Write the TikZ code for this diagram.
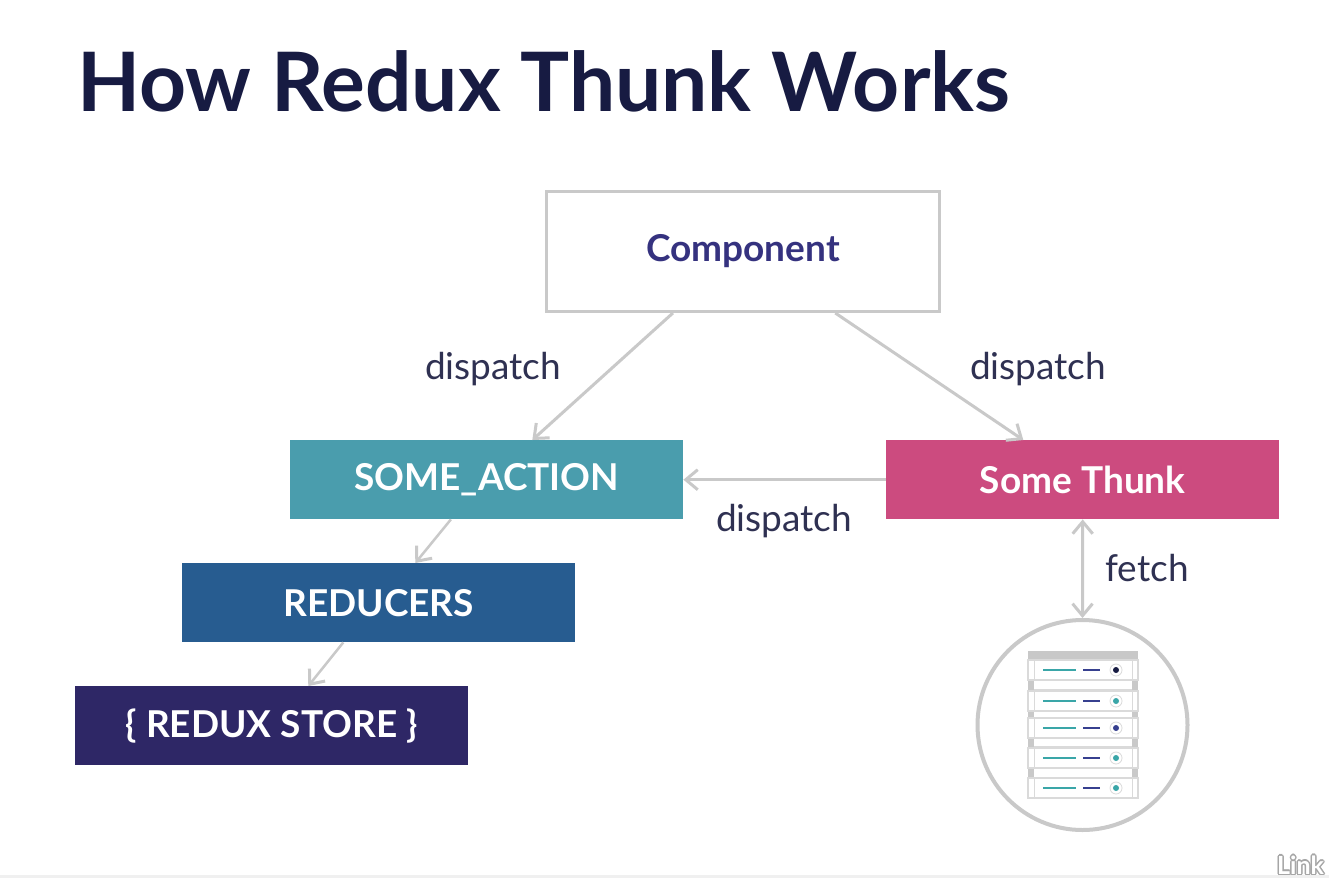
\documentclass[tikz,border=0pt]{standalone}
\usepackage{fontspec}
\setmainfont{Lato}
\usetikzlibrary{arrows.meta,calc}
\definecolor{linegray}{HTML}{C9C9C9}
\definecolor{titlecol}{HTML}{171B42}
\definecolor{compcol}{HTML}{35327F}
\definecolor{labelcol}{HTML}{2F3152}
\definecolor{tealbox}{HTML}{4A9DAD}
\definecolor{pinkbox}{HTML}{CC4B7F}
\definecolor{bluebox}{HTML}{275C90}
\definecolor{navybox}{HTML}{2E2766}
\definecolor{tealline}{HTML}{3AA6A8}
\definecolor{navyline}{HTML}{37408F}
\definecolor{framegray}{HTML}{DADADA}
\tikzset{
  box/.style={minimum width=393pt,minimum height=79pt,inner sep=0pt,anchor=north west,text=white,font=\fontsize{37}{40}\selectfont\bfseries},
  link/.style={draw=linegray,line width=3pt,-{Straight Barb[length=12pt,width=20pt,line width=3pt]}},
  linkboth/.style={draw=linegray,line width=3pt,{Straight Barb[length=12pt,width=20pt,line width=3pt]}-{Straight Barb[length=12pt,width=20pt,line width=3pt]}},
  lab/.style={text=labelcol,font=\fontsize{37}{40}\selectfont,inner sep=0pt},
  railbar/.style={fill=linegray,draw=none},
  unit/.style={draw=framegray,line width=1.5pt,fill=white},
  wmark/.style={anchor=west,inner sep=0pt,font=\fontsize{25}{28}\selectfont\bfseries},
}
\newcommand{\serverunit}[3]{%
  \draw[unit] (1028,#1) rectangle (1138,#1+20);
  \draw[framegray,line width=1pt] (1034,#1) -- (1034,#1+20) (1132,#1) -- (1132,#1+20);
  \draw[tealline,line width=2pt] (1043,#1+10) -- (1076,#1+10);
  \draw[navyline,line width=2pt] (1083,#1+10) -- (1100,#1+10);
  \draw[framegray,line width=.8pt,fill=white] (1116,#1+10) circle (6pt);
  \fill[#2] (1116,#1+10) circle (#3);
}
\begin{document}
\begin{tikzpicture}[x=1pt,y=-1pt]
\useasboundingbox (0,0) rectangle (1329,878);
\fill[white] (0,0) rectangle (1329,878);
\fill[gray!12] (0,875) rectangle (1329,878);
\node[anchor=west,inner sep=0pt,text=titlecol,font=\fontsize{82}{90}\selectfont\bfseries] (title) at (77,81) {How Redux Thunk Works};

\node[box,draw=linegray,line width=3pt,fill=white,text=compcol,minimum width=393pt,minimum height=120pt] (comp) at (545,190) {Component};
\node[box,fill=tealbox] (action) at (290,440) {SOME\_ACTION};
\node[box,fill=pinkbox] (thunk) at (886,440) {Some Thunk};
\node[box,fill=bluebox] (reducers) at (182,563) {REDUCERS};
\node[box,fill=navybox] (store) at (75,686) {\{ REDUX STORE \}};
\node[circle,draw=linegray,line width=4pt,minimum size=210pt,inner sep=0pt] (server) at (1082.5,725) {};

\draw[link] ($(comp.south west)!0.323!(comp.south east)$) -- ($(action.north west)!0.616!(action.north east)$);
\draw[link] ($(comp.south west)!0.733!(comp.south east)$) -- ($(thunk.north west)!0.349!(thunk.north east)$);
\draw[link] (thunk.west) -- (action.east);
\draw[link,line width=2.5pt] ($(action.south west)!0.409!(action.south east)$) -- ($(reducers.north west)!0.593!(reducers.north east)$);
\draw[link,line width=2.5pt] ($(reducers.south west)!0.41!(reducers.south east)$) -- ($(store.north west)!0.593!(store.north east)$);
\draw[linkboth] (thunk.south) -- (server.north);

\node[lab] (d1) at (493,369) {dispatch};
\node[lab] (d2) at (1038,369) {dispatch};
\node[lab] (d3) at (784,521) {dispatch};
\node[lab] (f1) at (1147,568) {fetch};

% server rack
\fill[framegray!80!gray] (1028,651) rectangle (1138,660);
\fill[railbar] (1028,678) rectangle (1034,690);
\fill[railbar] (1132,678) rectangle (1138,690);
\fill[railbar] (1028,709) rectangle (1034,718);
\fill[railbar] (1132,709) rectangle (1138,718);
\fill[railbar] (1028,737) rectangle (1034,747);
\fill[railbar] (1132,737) rectangle (1138,747);
\fill[railbar] (1028,767) rectangle (1034,778);
\fill[railbar] (1132,767) rectangle (1138,778);
\draw[framegray,line width=1.5pt] (1034,679) -- (1132,679) (1034,690) -- (1132,690)
  (1034,710) -- (1132,710) (1034,718) -- (1132,718)
  (1034,738) -- (1132,738) (1034,747) -- (1132,747)
  (1034,768) -- (1132,768) (1034,778) -- (1132,778);
\serverunit{660}{titlecol}{3pt}
\serverunit{691}{tealline}{3pt}
\serverunit{718}{navyline}{3pt}
\serverunit{748}{tealline}{3pt}
\serverunit{778}{tealline}{3pt}

% watermark
\begin{scope}
\clip (1270,845) rectangle (1329,878);
\foreach \dx/\dy in {-1.5/0,1.5/0,0/-1.5,0/1.5,-1/-1,1/-1,-1/1,1/1}
  \node[wmark,text=gray!70] at (1277+\dx,865+\dy) {Link};
\node[wmark,text=white] (wm) at (1277,865) {Link};
\end{scope}
\end{tikzpicture}
\end{document}
